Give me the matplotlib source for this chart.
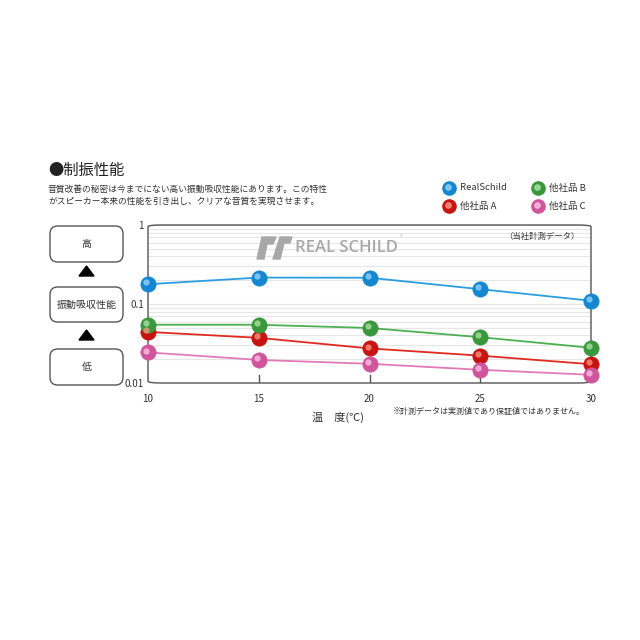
import matplotlib.pyplot as plt
from matplotlib.patches import FancyBboxPatch, Polygon
from matplotlib.ticker import FixedLocator, LogLocator, NullFormatter
from matplotlib import transforms

plt.rcParams['font.family'] = ['Noto Sans CJK JP', 'DejaVu Sans']

# data (log scale)
temps = [10, 15, 20, 25, 30]
real_schild = [0.178, 0.216, 0.215, 0.154, 0.110]
other_a = [0.0443, 0.0373, 0.0274, 0.0222, 0.0173]
other_b = [0.0546, 0.0546, 0.0497, 0.0380, 0.0279]
other_c = [0.0244, 0.0196, 0.0175, 0.0147, 0.0127]
series_names = ['RealSchild', '他社品 A', '他社品 B', '他社品 C']
y_ticks = [0.01, 0.1, 1]
y_labels = ['0.01', '0.1', '1']

# line colour, ball colour, highlight
styles = {
    'RealSchild': ('#2a9ee0', '#1587d0', '#9ad8ff'),
    '他社品 A': ('#e02a20', '#c81410', '#ff9a88'),
    '他社品 B': ('#4cb050', '#3a983c', '#b0e4a8'),
    '他社品 C': ('#e37ab8', '#d0559c', '#ffc8e8'),
}
series = {'RealSchild': real_schild, '他社品 A': other_a,
          '他社品 B': other_b, '他社品 C': other_c}

fig = plt.figure(figsize=(6.4, 6.4), dpi=100)
txt = '#333333'


def px(x, y):
    return x / 640, 1 - y / 640


ax = fig.add_axes([148 / 640, 1 - 383 / 640, 443 / 640, 158 / 640])
ax.set_yscale('log')
ax.set_xlim(10, 30)
ax.set_ylim(0.01, 1)
for s in ax.spines.values():
    s.set_visible(False)

# rounded frame
frame = FancyBboxPatch((0, 0), 1, 1, boxstyle='round,pad=0,rounding_size=0.03',
                       transform=ax.transAxes, fill=False, edgecolor='#555555',
                       linewidth=1.0, clip_on=False, mutation_aspect=158 / 443)
ax.add_patch(frame)

ax.yaxis.set_major_locator(FixedLocator(y_ticks))
ax.yaxis.set_minor_locator(LogLocator(base=10, subs=range(2, 10)))
ax.yaxis.set_minor_formatter(NullFormatter())
ax.set_yticklabels(y_labels)
ax.grid(True, which='both', axis='y', color='#e6e6e6', linewidth=0.8)
ax.tick_params(axis='y', which='both', length=0, labelsize=7, colors=txt, pad=3)
ax.xaxis.set_major_locator(FixedLocator(temps))
ax.tick_params(axis='x', length=0, labelsize=7, colors=txt, pad=8)
ax.set_axisbelow(True)

# small ticks at inner x positions
for t in temps[1:-1]:
    ax.plot([t, t], [0.01, 0.0128], color='#555555', linewidth=1, zorder=2)

hl = transforms.offset_copy(ax.transData, fig=fig, x=-1.3, y=1.3, units='points')
for name in series_names:
    lc, bc, hc = styles[name]
    vals = series[name]
    ax.plot(temps, vals, color=lc, linewidth=1.3, zorder=3)
    ax.plot(temps, vals, 'o', color=bc, markersize=11, markeredgecolor=bc,
            markeredgewidth=0.5, zorder=4, clip_on=False)
    ax.plot(temps, vals, 'o', color=hc, markersize=4.5, markeredgewidth=0,
            alpha=0.75, zorder=5, clip_on=False, transform=hl)

ax.set_xlabel('温　度(℃)', fontsize=8, color=txt, labelpad=4)
ax.xaxis.set_label_coords(0.43, -0.18)

ax.text(0.975, 0.93, '（当社計測データ）', transform=ax.transAxes, ha='right',
        va='center', fontsize=6, color=txt)

# REAL SCHILD logo
fig.text(*px(295, 248), 'REAL SCHILD', ha='left', va='center', fontsize=12,
         color='#a8a8a8', fontweight='semibold', family=['Open Sans', 'DejaVu Sans'])
fig.text(*px(400, 238), '®', ha='left', va='center', fontsize=4, color='#a8a8a8')
logo_left = [(262, 237), (276, 237), (273, 244), (267, 244), (264, 259), (257, 259)]
logo_right = [(280, 237), (292, 237), (290, 243), (284, 243), (280, 259), (273, 259)]
for shape in (logo_left, logo_right):
    fig.patches.append(Polygon([px(x, y) for x, y in shape], closed=True,
                               transform=fig.transFigure, color='#a8a8a8'))

# title and description
fig.text(*px(48, 170), '●制振性能', fontsize=11, color='#222222', va='center')
fig.text(*px(48, 189),
         '音質改善の秘密は今までにない高い振動吸収性能にあります。この特性',
         fontsize=6.3, color=txt, va='center')
fig.text(*px(48, 201),
         'がスピーカー本来の性能を引き出し、クリアな音質を実現させます。',
         fontsize=6.3, color=txt, va='center')
fig.text(*px(393, 411),
         '※計測データは実測値であり保証値ではありません。',
         fontsize=5.8, color=txt, va='center')

# legend
leg_pos = {'RealSchild': (449, 188), '他社品 B': (538, 188),
           '他社品 A': (449, 206), '他社品 C': (538, 206)}
for name, (x0, y0) in leg_pos.items():
    lc, bc, hc = styles[name]
    fx, fy = px(x0, y0)
    fig.lines.append(plt.Line2D([fx], [fy], marker='o', color=bc, markersize=9.5,
                                transform=fig.transFigure))
    fig.lines.append(plt.Line2D([fx - 1.5 / 640], [fy + 1.5 / 640], marker='o',
                                color=hc, markersize=3.8, alpha=0.75,
                                transform=fig.transFigure))
    fig.text(fx + 11 / 640, fy, name, fontsize=6.8, color=txt, va='center')

# left side boxes
boxes = [(226, 262, '高'), (287, 322, '振動吸収性能'), (349, 385, '低')]
for top, bot, label in boxes:
    b = FancyBboxPatch((50 / 640, 1 - bot / 640), 73 / 640, (bot - top) / 640,
                       boxstyle='round,pad=0,rounding_size=0.012',
                       transform=fig.transFigure, fill=False,
                       edgecolor='#555555', linewidth=1.0)
    fig.patches.append(b)
    fig.text(86.5 / 640, 1 - (top + bot) / 2 / 640, label, fontsize=7.2,
             color=txt, ha='center', va='center')
for cy in (271, 335):
    tri = Polygon([px(79, cy + 5), px(94, cy + 5), px(86.5, cy - 5)],
                  closed=True, transform=fig.transFigure, color='black')
    fig.patches.append(tri)

fig.savefig('out.png', dpi=100, facecolor='white')
